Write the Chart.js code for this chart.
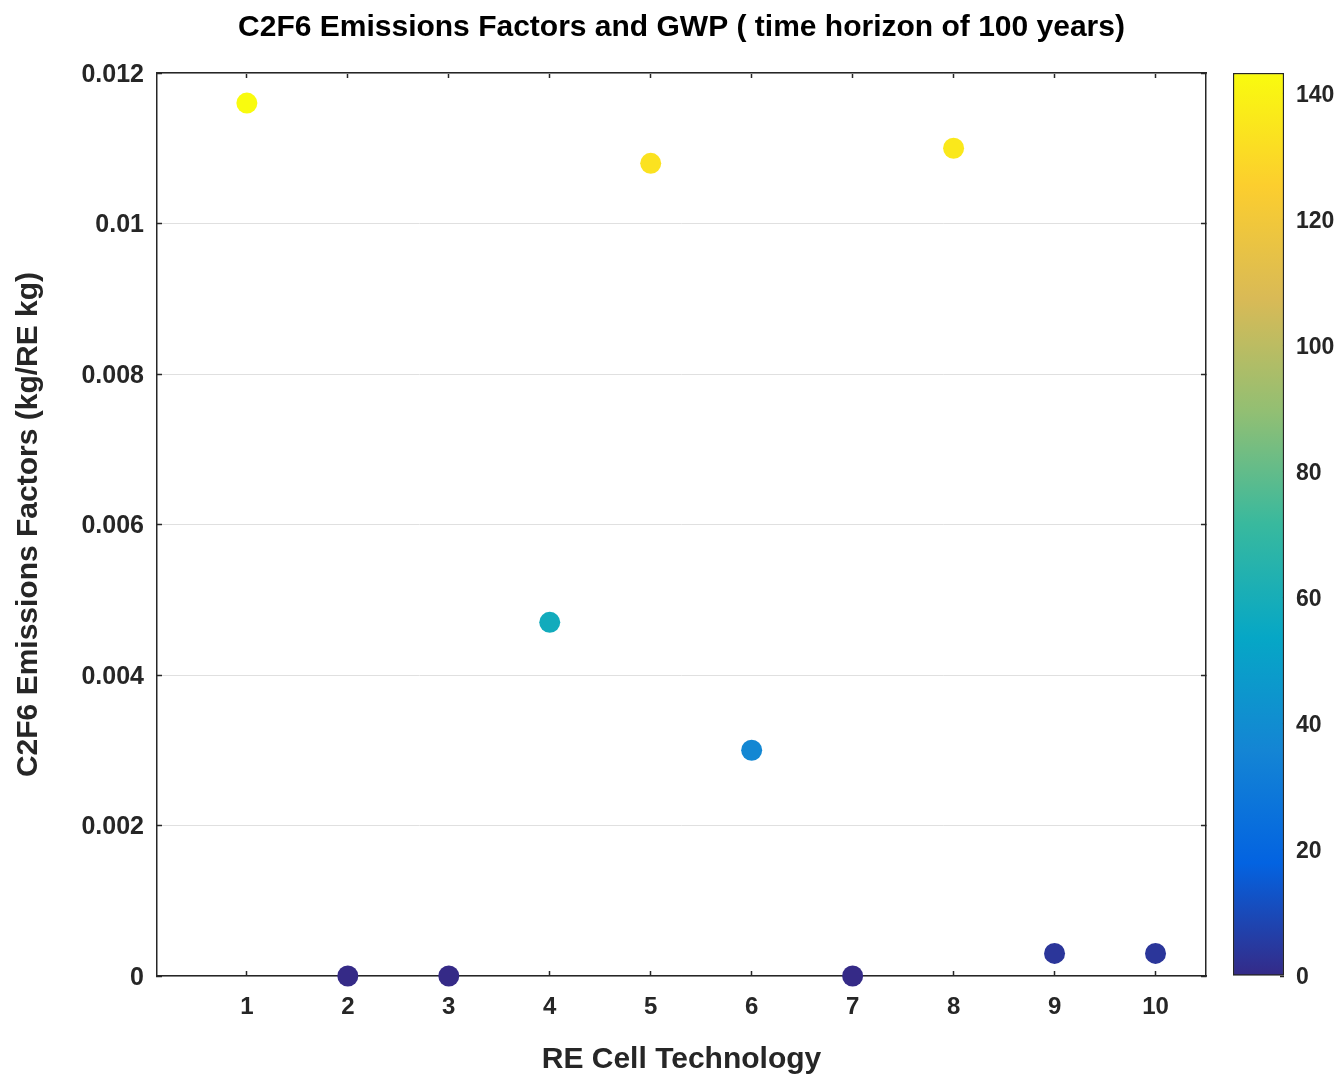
<!DOCTYPE html>
<html>
<head>
<meta charset="utf-8">
<script src="https://cdn.jsdelivr.net/npm/chart.js@4.4.1/dist/chart.umd.min.js"></script>
<style>
  html, body { margin: 0; padding: 0; background: #ffffff; }
  #wrap { position: relative; width: 1344px; height: 1076px; background: #ffffff; }
  #main { position: absolute; left: 0; top: 0; }
  #cbar { position: absolute; left: 1206px; top: 0; }
</style>
</head>
<body>
<div id="wrap">
  <canvas id="main" width="1344" height="1076"></canvas>
  <canvas id="cbar" width="138" height="1076"></canvas>
</div>
<script>
// ---- data ----
const categories = [1, 2, 3, 4, 5, 6, 7, 8, 9, 10];
const emissionFactors = [0.0116, 0, 0, 0.0047, 0.0108, 0.0030, 0, 0.0110, 0.0003, 0.0003];
const gwpValues = [143.2, 0, 0, 58, 133.3, 37, 0, 135.7, 3.7, 3.7];
const xTicks = [1, 2, 3, 4, 5, 6, 7, 8, 9, 10];
const yTicks = [0, 0.002, 0.004, 0.006, 0.008, 0.010, 0.012];
const yTickLabels = ['0', '0.002', '0.004', '0.006', '0.008', '0.01', '0.012'];
const colorbarTicks = [0, 20, 40, 60, 80, 100, 120, 140];
const titleText = 'C2F6 Emissions Factors and GWP ( time horizon of 100 years)';
const xTitle = 'RE Cell Technology';
const yTitle = 'C2F6 Emissions Factors (kg/RE kg)';

// parula colormap stops
const parulaStops = ['#352a87', '#0363e1', '#1485d4', '#06a7c6', '#38b99e', '#92bf73', '#d9ba56', '#fcce2e', '#f9fb0e'];
const cMin = 0;
const cMax = Math.max(...gwpValues);

function hexToRgb(h) {
  return [parseInt(h.slice(1, 3), 16), parseInt(h.slice(3, 5), 16), parseInt(h.slice(5, 7), 16)];
}
function parula(v) {
  let t = (v - cMin) / (cMax - cMin);
  t = Math.max(0, Math.min(1, t));
  const n = parulaStops.length - 1;
  const i = Math.min(n - 1, Math.floor(t * n));
  const f = t * n - i;
  const a = hexToRgb(parulaStops[i]), b = hexToRgb(parulaStops[i + 1]);
  const c = a.map((x, k) => Math.round(x + (b[k] - x) * f));
  return 'rgb(' + c.join(',') + ')';
}

const FONT = '"Liberation Sans", Arial, Helvetica, sans-serif';
Chart.defaults.font.family = FONT;
const AX = '#262626';
const yTickFont = { family: FONT, size: 25, weight: 'bold' };
const xTickFont = { family: FONT, size: 24, weight: 'bold' };
const cbTickFont = { family: FONT, size: 23, weight: 'bold' };
const labelFont = { family: FONT, size: 30, weight: 'bold' };

const setTicks = (arr) => (s) => { s.ticks = arr.map(v => ({ value: v })); };

new Chart(document.getElementById('main'), {
  type: 'scatter',
  data: {
    datasets: [{
      data: categories.map((c, i) => ({ x: c, y: emissionFactors[i] })),
      pointBackgroundColor: gwpValues.map(parula),
      pointBorderWidth: 0,
      pointRadius: 10.5,
      pointHoverRadius: 10.5,
      clip: false
    }]
  },
  options: {
    responsive: false,
    animation: false,
    devicePixelRatio: 1,
    layout: { padding: { left: 0, right: 138, top: 0, bottom: 0 } },
    plugins: {
      legend: { display: false },
      tooltip: { enabled: false },
      title: {
        display: true,
        text: titleText,
        fullSize: false,
        color: '#000000',
        font: labelFont,
        padding: { top: 10, bottom: 27 }
      }
    },
    scales: {
      x: {
        type: 'linear', position: 'bottom', min: 0.11, max: 10.5,
        afterBuildTicks: setTicks(xTicks),
        afterFit: (s) => { s.height = 100; },
        grid: { drawOnChartArea: false, drawTicks: true, tickLength: -5, tickColor: AX, tickWidth: 1.5 },
        border: { display: true, color: AX, width: 1.5 },
        ticks: { padding: 22, color: AX, font: xTickFont, maxRotation: 0, autoSkip: false, callback: (v) => String(v) },
        title: { display: true, text: xTitle, color: AX, font: labelFont, padding: { top: 0, bottom: -2 } }
      },
      x2: {
        type: 'linear', position: 'top', min: 0.11, max: 10.5,
        afterBuildTicks: setTicks(xTicks),
        afterFit: (s) => { s.height = 0; },
        grid: { drawOnChartArea: false, drawTicks: true, tickLength: -5, tickColor: AX, tickWidth: 1.5 },
        border: { display: true, color: AX, width: 1.5 },
        ticks: { display: false }
      },
      y: {
        type: 'linear', position: 'left', min: 0, max: 0.012,
        afterBuildTicks: setTicks(yTicks),
        afterFit: (s) => { s.width = 157; },
        grid: { color: '#e0e0e0', lineWidth: 1, drawTicks: true, tickLength: -5, tickColor: AX, tickWidth: 1.5 },
        border: { display: true, color: AX, width: 1.5 },
        ticks: { padding: 18, labelOffset: 2, color: AX, font: yTickFont, autoSkip: false, callback: (v, i) => yTickLabels[i] },
        title: { display: true, text: yTitle, color: AX, font: labelFont, padding: { top: 10.5, bottom: 0 } }
      },
      y2: {
        type: 'linear', position: 'right', min: 0, max: 0.012,
        afterBuildTicks: setTicks(yTicks),
        afterFit: (s) => { s.width = 0; },
        grid: { drawOnChartArea: false, drawTicks: true, tickLength: -5, tickColor: AX, tickWidth: 1.5 },
        border: { display: true, color: AX, width: 1.5 },
        ticks: { display: false }
      }
    }
  }
});

// colorbar
new Chart(document.getElementById('cbar'), {
  type: 'bar',
  data: {
    labels: [''],
    datasets: [{
      data: [[cMin, cMax]],
      backgroundColor: (c) => {
        const a = c.chart.chartArea;
        if (!a) return parulaStops[0];
        const g = c.chart.ctx.createLinearGradient(0, a.bottom, 0, a.top);
        parulaStops.forEach((s, i) => g.addColorStop(i / (parulaStops.length - 1), s));
        return g;
      },
      borderColor: AX,
      borderWidth: 1.5,
      borderSkipped: false,
      barPercentage: 1,
      categoryPercentage: 1
    }]
  },
  options: {
    responsive: false,
    animation: false,
    devicePixelRatio: 1,
    layout: { padding: { left: 27, right: 0, top: 73, bottom: 100 } },
    plugins: { legend: { display: false }, tooltip: { enabled: false }, title: { display: false } },
    scales: {
      x: { display: false },
      y: {
        position: 'right', min: cMin, max: cMax, z: 1,
        afterBuildTicks: setTicks(colorbarTicks),
        afterFit: (s) => { s.width = 60; },
        grid: { drawOnChartArea: false, drawTicks: true, tickLength: -4, tickColor: AX, tickWidth: 1.5 },
        border: { display: false },
        ticks: { padding: 16, labelOffset: 2, color: AX, font: cbTickFont, autoSkip: false, callback: (v) => String(v) }
      }
    }
  }
});
</script>
</body>
</html>
